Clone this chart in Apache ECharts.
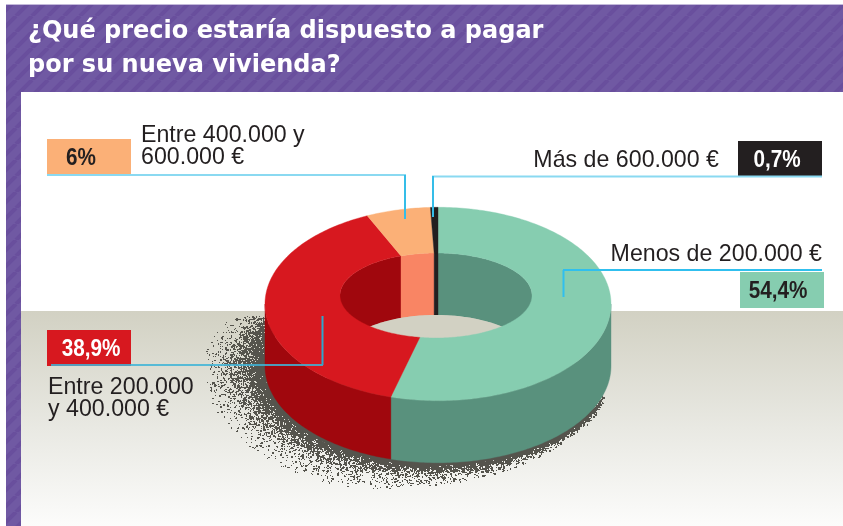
<!DOCTYPE html>
<html lang="es">
<head>
<meta charset="utf-8">
<style>html,body{margin:0;padding:0;background:#fff}#c{width:843px;height:526px}</style>
<script src="https://cdn.jsdelivr.net/npm/echarts@6/dist/echarts.min.js"></script>
</head>
<body>
<div id="c"></div>
<script>
const titleLines = ["¿Qué precio estaría dispuesto a pagar", "por su nueva vivienda?"];
const categories = ["Menos de 200.000 €", "Entre 200.000 y 400.000 €", "Entre 400.000 y 600.000 €", "Más de 600.000 €"];
const values = [54.4, 38.9, 6, 0.7];
const topColors = ["#86cdb0", "#d7181f", "#fbb077", "#231f20"];
const wallColors = ["#59917d", "#a0070d", "#f98564", "#231f20"];

// Ring geometry of the drawing
const O = {cx: 438, cy: 304, rx: 173, ry: 96.7};
const I = {cx: 436, cy: 295.5, rx: 96, ry: 42.5};
const V = {x: 438, y: 300};
const DEPTH = 62;
const rad = d => d * Math.PI / 180;
const pt = (E, t, dy) => [E.cx + E.rx * Math.sin(rad(t)), E.cy - E.ry * Math.cos(rad(t)) + (dy || 0)];

// Slice boundaries in degrees, clockwise from 12 o'clock
const total = values.reduce((a, b) => a + b, 0);
const bounds = [0];
values.forEach(v => bounds.push(bounds[bounds.length - 1] + v / total * 360));

// Where the line from an outer point towards V meets the inner ellipse
function innerParam(t) {
  const P = pt(O, t);
  const dx = P[0] - V.x, dy = P[1] - V.y;
  const ox = (V.x - I.cx) / I.rx, oy = (V.y - I.cy) / I.ry;
  const ax = dx / I.rx, ay = dy / I.ry;
  const a = ax * ax + ay * ay, b = 2 * (ox * ax + oy * ay), c = ox * ox + oy * oy - 1;
  const s = (-b + Math.sqrt(b * b - 4 * a * c)) / (2 * a);
  const x = V.x + s * dx, y = V.y + s * dy;
  return Math.atan2((x - I.cx) / I.rx, -(y - I.cy) / I.ry) * 180 / Math.PI;
}
function innerRange(i) {
  let s = innerParam(bounds[i]), e = innerParam(bounds[i + 1]);
  if (s < 0) s += 360;
  if (e < 0) e += 360;
  if (e < s) e += 360;
  return [s, e];
}
function arc(E, a, b, dy) {
  const out = [], n = Math.max(2, Math.ceil(Math.abs(b - a)));
  for (let k = 0; k <= n; k++) out.push(pt(E, a + (b - a) * k / n, dy));
  return out;
}

// Hatch for the purple band
const hatch = document.createElement('canvas');
hatch.width = 16; hatch.height = 16;
(function () {
  const g = hatch.getContext('2d');
  g.fillStyle = '#7059a3'; g.fillRect(0, 0, 16, 16);
  g.strokeStyle = '#694f9d'; g.lineWidth = 4;
  [-16, 0, 16, 32].forEach(o => { g.beginPath(); g.moveTo(o, 16); g.lineTo(o + 16, 0); g.stroke(); });
})();

// Speckled ground shadow (texture only, fixed hash)
const hash = n => {
  const a = Math.sin(n * 127.1 + 311.7) * 43758.5453;
  const b = Math.sin((a - Math.floor(a)) * 269.5 + n * 0.37) * 24634.6345;
  return b - Math.floor(b);
};
const reachKnots = [[-72, 3], [-40, 9], [0, 19], [35, 36], [75, 52], [100, 52], [115, 36]];
function reach(th) {
  for (let k = 1; k < reachKnots.length; k++) {
    if (th <= reachKnots[k][0]) {
      const A = reachKnots[k - 1], B = reachKnots[k];
      return A[1] + (B[1] - A[1]) * (th - A[0]) / (B[0] - A[0]);
    }
  }
  return 0;
}
const speck = [];
for (let i = 1; i <= 11000; i++) {
  const th = -72 + 187 * Math.pow(hash(i), 0.6);
  const r = reach(th);
  const d = r * 0.3 * -Math.log(1 - hash(i + 9000) * 0.999);
  if (d > 1.15 * r) continue;
  const x = O.cx - (O.rx + d) * Math.sin(rad(th));
  const y = O.cy + DEPTH + (O.ry + d) * Math.cos(rad(th));
  if (y < 316) continue;
  speck.push({type: 'rect', shape: {x: Math.round(x), y: Math.round(y), width: 1 + (i % 3 === 0 ? 1 : 0), height: 1 + (i % 4 === 0 ? 1 : 0)}, style: {fill: '#55544d'}});
}

const shapeOf = (points, fill) => ({type: 'polygon', shape: {points}, style: {fill, stroke: fill, lineWidth: 0.4}});
const BAND = {cx: O.cx - 2, cy: O.cy, rx: O.rx, ry: O.ry};

const series = [
  {type: 'custom', coordinateSystem: 'none', silent: true, animation: false, clip: false, z: 2, data: [0],
   renderItem: () => ({type: 'group', children: [
     {type: 'polygon', shape: {points: arc(BAND, 85, 262, DEPTH + 3)}, style: {fill: '#55544d'}}
   ].concat(speck)})},
  // outer wall
  {type: 'custom', coordinateSystem: 'none', silent: true, animation: false, clip: false, z: 3, data: values,
   renderItem: p => {
     const lo = Math.max(bounds[p.dataIndex], 90), hi = Math.min(bounds[p.dataIndex + 1], 270);
     if (hi <= lo) return {type: 'group', children: []};
     return shapeOf(arc(O, lo, hi).concat(arc(O, hi, lo, DEPTH)), wallColors[p.dataIndex]);
   }},
  // hole back wall
  {type: 'custom', coordinateSystem: 'none', silent: true, animation: false, clip: false, z: 4, data: values,
   renderItem: p => {
     const [s, e] = innerRange(p.dataIndex);
     const children = [];
     [0, 360].forEach(off => {
       const lo = Math.max(s + off, 270), hi = Math.min(e + off, 450);
       if (hi > lo) children.push(shapeOf(arc(I, lo, hi).concat(arc(I, hi, lo, DEPTH)), wallColors[p.dataIndex]));
     });
     return {type: 'group', children};
   }},
  // floor seen through the hole
  {type: 'custom', coordinateSystem: 'none', silent: true, animation: false, clip: false, z: 5, data: [0],
   renderItem: () => ({type: 'ellipse', shape: {cx: I.cx, cy: I.cy + DEPTH, rx: I.rx, ry: I.ry}, style: {fill: '#d2d1c3'}})},
  // top face
  {type: 'custom', coordinateSystem: 'none', silent: true, animation: false, clip: false, z: 6, data: values,
   renderItem: p => {
     const i = p.dataIndex, [s, e] = innerRange(i);
     return shapeOf(arc(O, bounds[i], bounds[i + 1]).concat(arc(I, e, s)), topColors[i]);
   }}
];

const fmt = v => String(v).replace('.', ',') + '%';
const LABEL = '23.2px "Liberation Sans", sans-serif';
const label = (text, x, y, align) => ({type: 'text', z: 20, x, y, style: {text, font: LABEL, fill: '#231f20', align: align || 'left', verticalAlign: 'middle'}});
const box = (x, y, fill) => ({type: 'rect', z: 15, shape: {x, y, width: 84, height: 36}, style: {fill}});
const boxText = (v, x, y, fill) => ({type: 'text', z: 20, x, y, scaleX: 0.9, style: {text: fmt(v), font: 'bold 23px "Liberation Sans", sans-serif', fill, align: 'center', verticalAlign: 'middle'}});
const line = (x1, y1, x2, y2, stroke, lw) => ({type: 'line', z: 30, shape: {x1, y1, x2, y2}, style: {stroke, lineWidth: lw || 2}});

const graphic = [
  {type: 'rect', z: -5, shape: {x: 6, y: 4, width: 837, height: 88}, style: {fill: {image: hatch, repeat: 'repeat'}}},
  {type: 'rect', z: -5, shape: {x: 6, y: 92, width: 15, height: 434}, style: {fill: {image: hatch, repeat: 'repeat'}}},
  {type: 'rect', z: -4, shape: {x: 6, y: 4, width: 837, height: 1}, style: {fill: '#c3b9da'}},
  {type: 'rect', z: -5, shape: {x: 21, y: 311, width: 822, height: 215}, style: {fill: {type: 'linear', x: 0, y: 0, x2: 0, y2: 1, colorStops: [{offset: 0, color: '#d2d1c3'}, {offset: 0.55, color: '#e9e9e3'}, {offset: 1, color: '#fcfcfb'}]}}},
  box(47, 139, topColors[2]), box(738, 141, topColors[3]), box(740, 272, topColors[0]), box(47, 330, topColors[1]),
  boxText(values[2], 81, 159, '#231f20'), boxText(values[3], 777, 161, '#ffffff'),
  boxText(values[0], 778, 292, '#231f20'), boxText(values[1], 91, 350, '#ffffff'),
  label('Entre 400.000 y', 141, 136), label('600.000 €', 141, 158),
  label(categories[3], 719, 161, 'right'), label(categories[0], 822, 255, 'right'),
  label('Entre 200.000', 48, 388), label('y 400.000 €', 48, 410),
  line(47, 175, 406, 175, '#8ad9f1'), line(405, 175, 405, 219, '#35bde8'),
  line(432, 176.5, 822, 176.5, '#8ad9f1'), line(433, 176, 433, 217, '#35bde8'),
  line(563, 270, 822, 270, '#30bfee'), line(563.5, 270, 563.5, 297, '#30bfee'),
  line(51, 365, 323, 365, 'rgba(63,180,215,0.85)'), line(322.5, 316, 322.5, 365, '#2ea6cc')
];

const chart = echarts.init(document.getElementById('c'), null, {renderer: 'canvas', width: 843, height: 526});
chart.setOption({
  animation: false,
  backgroundColor: '#ffffff',
  title: {
    text: titleLines.join('\n'), left: 28, top: 15, padding: 0, z: 20,
    textStyle: {color: '#ffffff', fontFamily: '"DejaVu Sans"', fontWeight: 'bold', fontSize: 24, lineHeight: 34}
  },
  graphic,
  series
});
</script>
</body>
</html>
